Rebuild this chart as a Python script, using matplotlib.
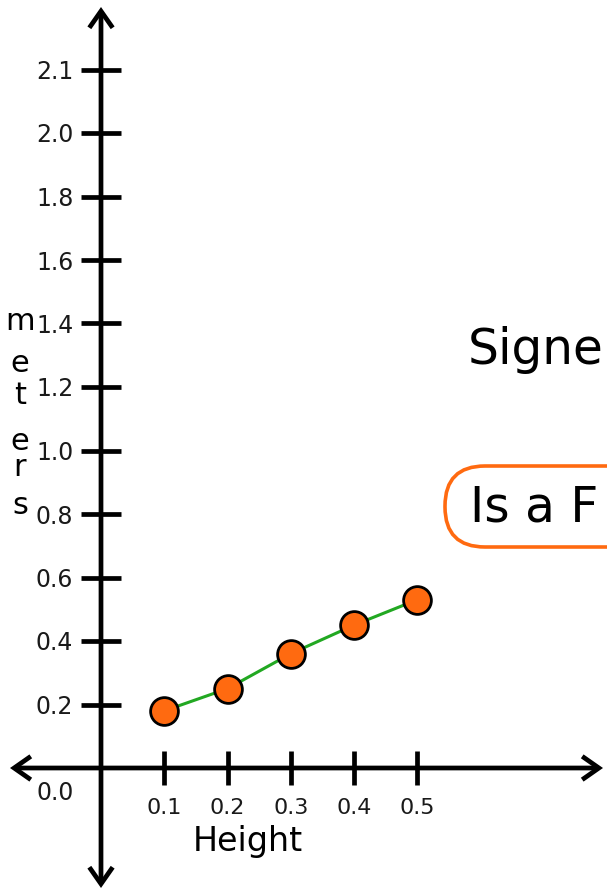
import matplotlib
matplotlib.use("Agg")
import matplotlib.pyplot as plt
from matplotlib.patches import FancyBboxPatch

# ---- data ----
heights = [0.1, 0.2, 0.3, 0.4, 0.5]
meters = [0.18, 0.25, 0.36, 0.45, 0.53]
x_tick_labels = ["0.1", "0.2", "0.3", "0.4", "0.5"]
y_tick_labels = ["0.2", "0.4", "0.6", "0.8", "1.0", "1.2", "1.4", "1.6", "1.8", "2.0", "2.1"]
origin_label = "0.0"
x_label = "Height"
y_label = "meters"
side_text_1 = "Signe"
side_text_2 = "Is a F"

# ---- style ----
FONT = "DejaVu Sans"
ORANGE = "#FF6A10"
GREEN = "#22A822"
W, H, DPI = 607, 893, 100
LW = 3.4

fig = plt.figure(figsize=(W / DPI, H / DPI), dpi=DPI)
fig.patch.set_facecolor("white")

# main data axes filling the figure; origin at pixel (101, 768)
ax = fig.add_axes([0, 0, 1, 1])
x0_px, y0_px = 101.0, 768.0
sx, sy = 632.5, 317.5
ax.set_xlim(-x0_px / sx, (W - x0_px) / sx)
ax.set_ylim(-(H - y0_px) / sy, y0_px / sy)
ax.set_facecolor("none")
for s in ax.spines.values():
    s.set_visible(False)
ax.spines["left"].set_position(("data", 0))
ax.spines["bottom"].set_position(("data", 0))

ax.set_xticks(heights)
ax.set_xticklabels(x_tick_labels)
ax.set_yticks([0.2 * (i + 1) for i in range(len(y_tick_labels))])
ax.set_yticklabels(y_tick_labels)
ax.tick_params(axis="y", direction="inout", length=28.8, width=LW, pad=5.5,
               labelsize=17, colors="black")
ax.tick_params(axis="x", direction="inout", length=25, width=LW, pad=9,
               labelsize=16, colors="black")
for lab in ax.get_xticklabels() + ax.get_yticklabels():
    lab.set_family(FONT)
    lab.set_color("#1a1a1a")

ax.plot(heights, meters, color=GREEN, lw=2.2, zorder=3)
ax.plot(heights, meters, ls="none", marker="o", ms=20, mfc=ORANGE, mec="black",
        mew=2.0, zorder=4)

# pixel overlay axes for decorations
px = fig.add_axes([0, 0, 1, 1])
px.set_xlim(0, W)
px.set_ylim(H, 0)
px.axis("off")
px.patch.set_visible(False)

arrow = dict(arrowstyle="<->,head_length=0.6,head_width=0.42", lw=LW,
             color="black", shrinkA=0, shrinkB=0, mutation_scale=20,
             joinstyle="miter", capstyle="butt")
px.annotate("", xy=(603, y0_px), xytext=(10, y0_px), arrowprops=arrow)
px.annotate("", xy=(x0_px, 7), xytext=(x0_px, 888), arrowprops=arrow)

px.text(55, 793, origin_label, ha="center", va="center", fontsize=17,
        family=FONT, color="#1a1a1a")
px.text(248, 842, x_label, ha="center", va="center", fontsize=24,
        family=FONT, color="black")

letter_y = [322, 364, 396, 441, 468, 505]
for ch, yy in zip(y_label, letter_y):
    px.text(20, yy, ch, ha="center", va="center", fontsize=22, family=FONT,
            color="black")

px.text(468, 350, side_text_1, ha="left", va="center", fontsize=35,
        family=FONT, color="black")

box = FancyBboxPatch((445, 466), 300, 81,
                     boxstyle="round,pad=0,rounding_size=40",
                     fc="white", ec=ORANGE, lw=2.6, zorder=2)
px.add_patch(box)
px.text(470, 507, side_text_2, ha="left", va="center", fontsize=35,
        family=FONT, color="black", zorder=3)

fig.savefig("out.png", dpi=DPI, facecolor="white")
